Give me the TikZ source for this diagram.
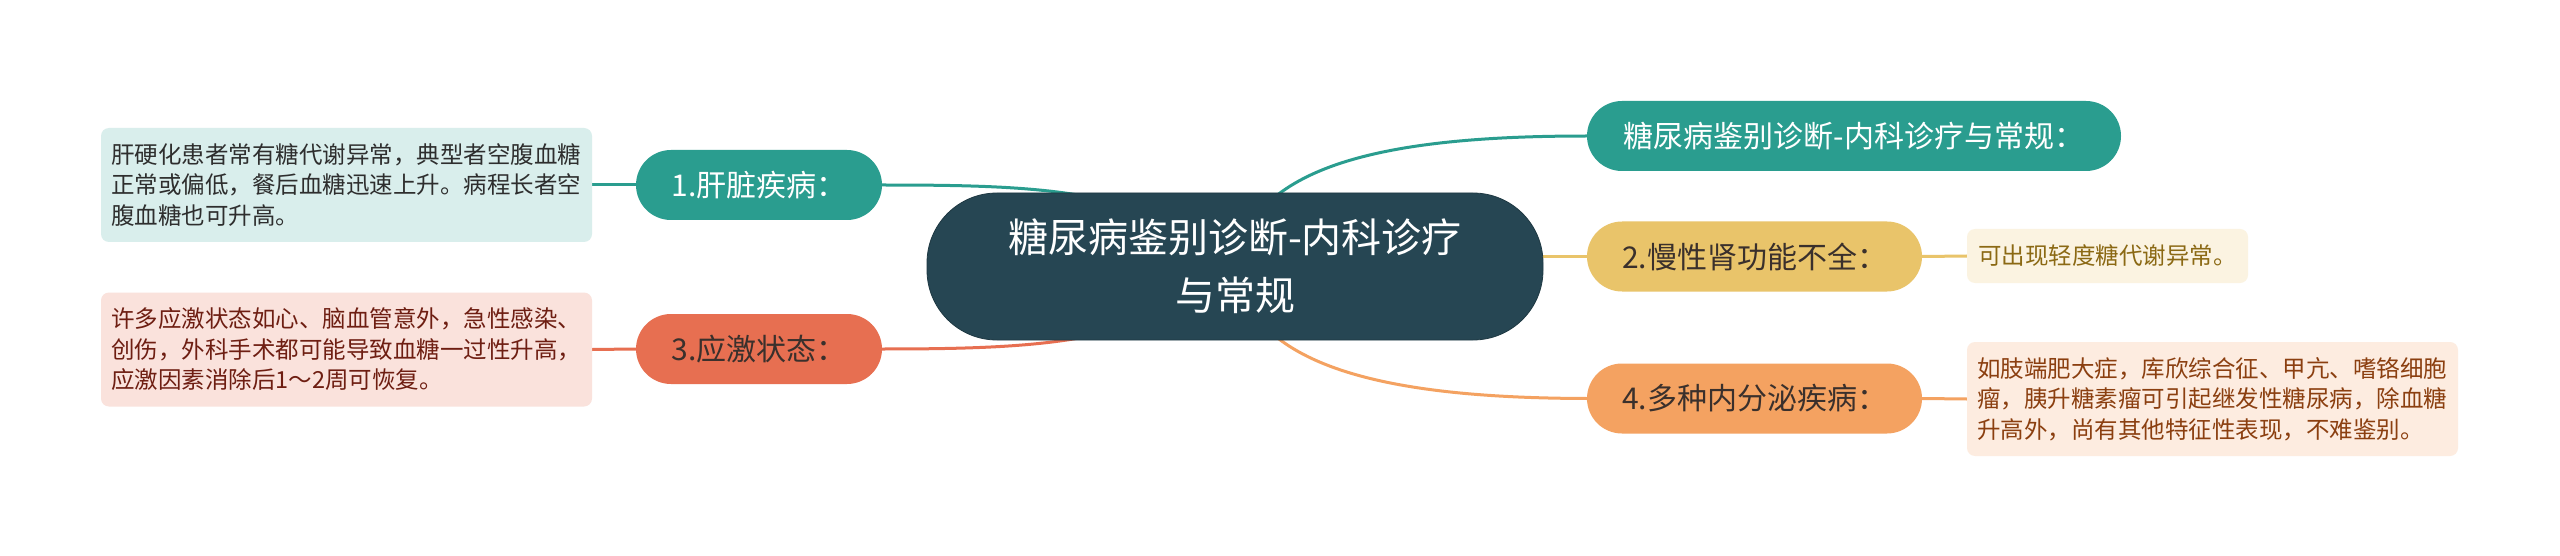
\documentclass[tikz,border=0pt]{standalone}
\usepackage{fontspec}
\newfontfamily\cjk{Noto Sans CJK SC}
\usetikzlibrary{backgrounds}
\definecolor{cteal}{HTML}{2A9D8F}
\definecolor{cdark}{HTML}{264653}
\definecolor{cyel}{HTML}{E9C46A}
\definecolor{corg}{HTML}{F4A261}
\definecolor{cred}{HTML}{E76F51}
\definecolor{fteal}{HTML}{D9EEEC}
\definecolor{fred}{HTML}{FAE2DC}
\definecolor{fyel}{HTML}{FBF3E1}
\definecolor{forg}{HTML}{FDECE0}
\definecolor{tliv}{HTML}{2E2E2E}
\definecolor{tred}{HTML}{6E1E12}
\definecolor{tyel}{HTML}{8B6914}
\definecolor{torg}{HTML}{8B3F10}
\definecolor{tdark}{HTML}{3A302C}
\begin{document}
\begin{tikzpicture}[x=1pt,y=-1pt,
  cnode/.style={font=\cjk\fontsize{40}{58}\selectfont, fill=cdark, draw=cdark!80!black, line width=0.8, text=white, align=center, rounded corners=70, minimum width=616, minimum height=147, inner sep=0},
  pill/.style={font=\cjk\fontsize{30}{36}\selectfont, rounded corners=35, minimum height=70, inner sep=0},
  tbox/.style={font=\cjk\fontsize{23.5}{30.5}\selectfont, rounded corners=8, align=left, inner xsep=10, inner ysep=0},
  link/.style={line width=3}]
\useasboundingbox (0,0) rectangle (2560,556);
\node[cnode] (c) at (1235,266.5) {糖尿病鉴别诊断-内科诊疗\\与常规};
\node[pill, fill=cteal, text=white, minimum width=246] (p1) at (759,185) {1.肝脏疾病：};
\node[pill, fill=cred, text=tdark, minimum width=246] (p3) at (759,349) {3.应激状态：};
\node[pill, fill=cteal, text=white, minimum width=534] (p0) at (1854,136) {糖尿病鉴别诊断-内科诊疗与常规：};
\node[pill, fill=cyel, text=tdark, minimum width=335] (p2) at (1754.5,256.5) {2.慢性肾功能不全：};
\node[pill, fill=corg, text=tdark, minimum width=335] (p4) at (1754.5,398.5) {4.多种内分泌疾病：};
\node[tbox, fill=fteal, text=tliv, minimum height=114, text width=471] (t1) at (346.5,185) {肝硬化患者常有糖代谢异常，典型者空腹血糖\\正常或偏低，餐后血糖迅速上升。病程长者空\\腹血糖也可升高。};
\node[tbox, fill=fred, text=tred, minimum height=114, text width=471] (t3) at (346.5,349.5) {许多应激状态如心、脑血管意外，急性感染、\\创伤，外科手术都可能导致血糖一过性升高，\\应激因素消除后1～2周可恢复。};
\node[tbox, fill=fyel, text=tyel, minimum height=54, text width=259, inner xsep=11] (t2) at (2107.5,256) {可出现轻度糖代谢异常。};
\node[tbox, fill=forg, text=torg, minimum height=114, text width=471] (t4) at (2212.5,399) {如肢端肥大症，库欣综合征、甲亢、嗜铬细胞\\瘤，胰升糖素瘤可引起继发性糖尿病，除血糖\\升高外，尚有其他特征性表现，不难鉴别。};
\begin{scope}[on background layer]
\fill[white] (0,0) rectangle (2560,556);
\draw[link, cteal] (p1.east) .. controls (1050,185) and (1150,190) .. (c.center);
\draw[link, cred] (p3.east) .. controls (1050,349) and (1150,342) .. (c.center);
\draw[link, cteal] (p0.west) .. controls (1400,136) and (1250,160) .. (c.center);
\draw[link, cyel] (c.center |- p2.west) -- (p2.west);
\draw[link, corg] (p4.west) .. controls (1400,398) and (1250,372) .. (c.center);
\draw[link, cteal] (t1.east) -- (p1.west);
\draw[link, cred] (t3.east) -- (p3.west);
\draw[link, cyel] (p2.east) -- (t2.west);
\draw[link, corg] (p4.east) -- (t4.west);
\end{scope}
\end{tikzpicture}
\end{document}
